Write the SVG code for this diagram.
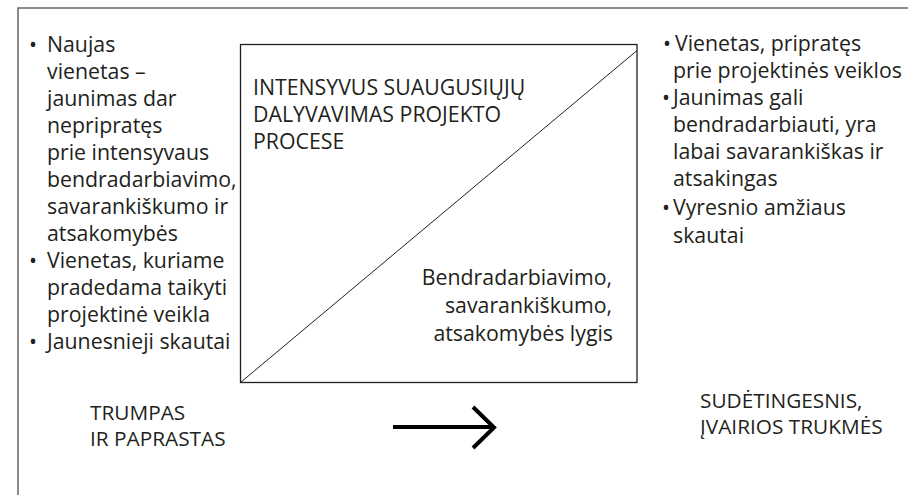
<svg xmlns="http://www.w3.org/2000/svg" width="908" height="495" viewBox="0 0 908 495">
<style>
text { font-family: "Open Sans", "Noto Sans", sans-serif; font-size: 21.3px; fill: #231f20; }
.b { font-size: 20.8px; }
.frame { fill: none; stroke: #666; stroke-width: 1.5; }
.box { fill: #fff; stroke: #231f20; stroke-width: 1.3; }
.diag { stroke: #231f20; stroke-width: 1; }
.arrow { fill: none; stroke: #000; stroke-width: 4; }
.r { text-anchor: end; }
</style>
<rect width="908" height="495" fill="#fff"/>
<g id="frame"><path class="frame" d="M908,8 H18 V495"/></g>

<g id="left-list">
<text x="29" y="52">•</text>
<text x="47" y="52">Naujas</text>
<text x="47" y="79">vienetas –</text>
<text x="47" y="106">jaunimas dar</text>
<text x="47" y="133">nepripratęs</text>
<text x="47" y="160">prie intensyvaus</text>
<text x="47" y="187">bendradarbiavimo,</text>
<text x="47" y="214">savarankiškumo ir</text>
<text x="47" y="241">atsakomybės</text>
<text x="29" y="268">•</text>
<text x="47" y="268">Vienetas, kuriame</text>
<text x="47" y="295">pradedama taikyti</text>
<text x="47" y="322">projektinė veikla</text>
<text x="29" y="349">•</text>
<text x="47" y="349">Jaunesnieji skautai</text>
</g>

<g id="square">
<rect class="box" x="240.5" y="44.5" width="396.5" height="338"/>
<line class="diag" x1="240.5" y1="382.5" x2="637" y2="50.5"/>
<text x="253" y="95">INTENSYVUS SUAUGUSIŲJŲ</text>
<text x="253" y="122">DALYVAVIMAS PROJEKTO</text>
<text x="253" y="149">PROCESE</text>
<text class="r" x="612" y="285">Bendradarbiavimo,</text>
<text class="r" x="612" y="313">savarankiškumo,</text>
<text class="r" x="613" y="341">atsakomybės lygis</text>
</g>

<g id="right-list">
<text x="663" y="51">•</text>
<text x="675" y="51">Vienetas, pripratęs</text>
<text x="673" y="78">prie projektinės veiklos</text>
<text x="662" y="105">•</text>
<text x="673" y="105">Jaunimas gali</text>
<text x="673" y="132">bendradarbiauti, yra</text>
<text x="673" y="159">labai savarankiškas ir</text>
<text x="673" y="186">atsakingas</text>
<text x="662" y="215">•</text>
<text x="673" y="215">Vyresnio amžiaus</text>
<text x="673" y="243">skautai</text>
</g>

<g id="bottom-left">
<text class="b" x="90" y="420">TRUMPAS</text>
<text class="b" x="90" y="446">IR PAPRASTAS</text>
</g>
<g id="bottom-right">
<text class="b" x="700" y="408">SUDĖTINGESNIS,</text>
<text class="b" x="700" y="434">ĮVAIRIOS TRUKMĖS</text>
</g>

<g id="connectors">
<line class="arrow" x1="393" y1="427" x2="493" y2="427"/>
<polyline class="arrow" points="473,407 494,427.5 473,448"/>
</g>
</svg>
